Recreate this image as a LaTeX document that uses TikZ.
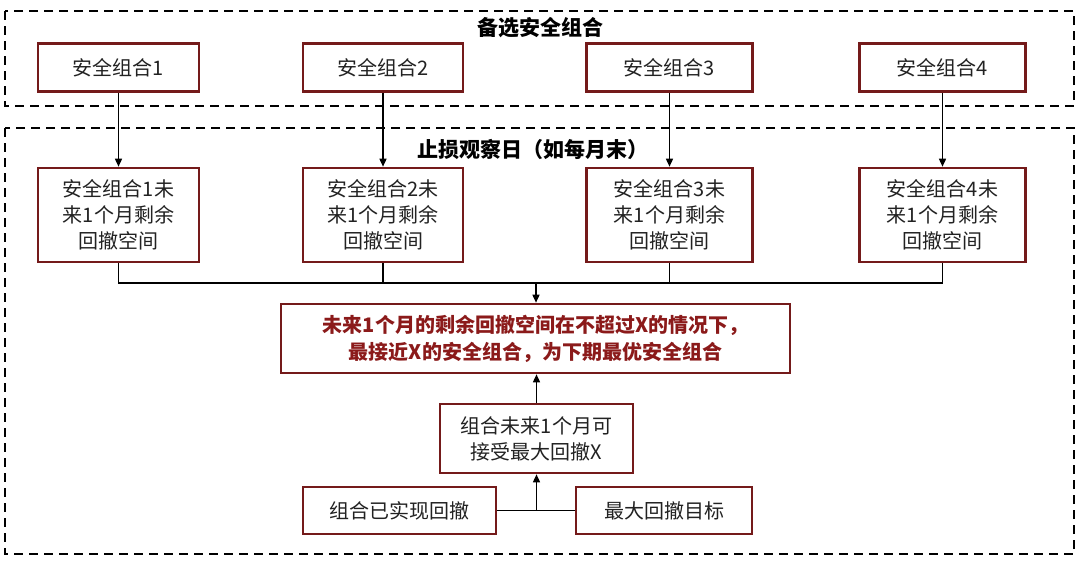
\documentclass[tikz,border=0pt]{standalone}
\usepackage{fontspec}
\setmainfont{Noto Sans CJK SC}
\usetikzlibrary{arrows.meta}
\definecolor{boxred}{HTML}{741A1A}
\definecolor{txtred}{HTML}{8B1A1A}
\definecolor{txtgray}{HTML}{222222}
\begin{document}
\begin{tikzpicture}[x=1pt,y=-1pt,
  box/.style={draw=boxred, line width=2.6pt, fill=white, align=center, inner sep=0pt,
    text=txtgray, font=\fontsize{20}{26}\selectfont},
  frame/.style={draw=black, line width=2.4pt, dash pattern=on 9pt off 6pt},
  ttl/.style={font=\fontsize{21}{26}\selectfont\bfseries},
  conn/.style={draw=black, line width=1.5pt},
  arr/.style={conn, -{Triangle[length=8pt,width=7pt]}}]
\useasboundingbox (0,0) rectangle (1080,562);
% dashed frames
\draw[frame] (5,11) rectangle (1074,106);
\draw[frame] (5,128) rectangle (1074,554);
\node[ttl] (t1) at (540,28) {备选安全组合};
\node[ttl] (t2) at (533,149) {止损观察日（如每月末）};
% top row
\foreach \i/\x/\w in {1/118.5/161,2/383/160,3/669.5/166,4/942.5/166}{
  \node[box, minimum width=\w pt, minimum height=48pt] (a\i) at (\x,67.5) {安全组合\i};
  \node[box, minimum width=\w pt, minimum height=94pt] (b\i) at (\x,215) {安全组合\i 未\\来1个月剩余\\回撤空间};
}
\foreach \i in {1,...,4}{ \draw[arr] (a\i.south) -- (b\i.north); }
% main box
\node[box, minimum width=509pt, minimum height=69pt, text=txtred,
  font=\fontsize{20}{27}\selectfont\bfseries] (main) at (535.5,338.5)
  {未来1个月的剩余回撤空间在不超过X的情况下，\\最接近X的安全组合，为下期最优安全组合};
\coordinate (j1) at (536,283);
\draw[conn] (b1.south) |- (j1);
\draw[conn] (b2.south) |- (j1);
\draw[conn] (b3.south) |- (j1);
\draw[conn] (b4.south) |- (j1);
\draw[arr] (j1) -- (main.north -| j1);
% lower boxes
\node[box, minimum width=193pt, minimum height=69pt] (mid) at (536.5,438.5) {组合未来1个月可\\接受最大回撤X};
\draw[arr] (mid.north) -- (main.south -| mid.north);
\node[box, minimum width=193pt, minimum height=47pt] (bl) at (399.5,510.5) {组合已实现回撤};
\node[box, minimum width=176pt, minimum height=47pt] (br) at (664,510.5) {最大回撤目标};
\coordinate (j2) at (536.5,510.5);
\draw[conn] (bl.east) -- (br.west);
\draw[arr] (j2) -- (mid.south);
\end{tikzpicture}
\end{document}
